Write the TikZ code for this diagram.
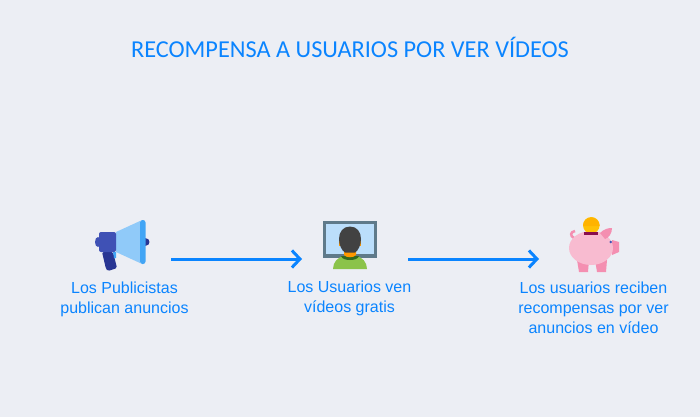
\documentclass[tikz,border=0pt]{standalone}
\usepackage{fontspec}
\setmainfont{Liberation Sans}
\newfontfamily\titlefont{Carlito}
\usetikzlibrary{positioning, arrows.meta}
\definecolor{bgcol}{HTML}{ECEEF4}
\definecolor{bluecol}{HTML}{0A84FF}
\definecolor{megdark}{HTML}{283593}
\definecolor{megbody}{HTML}{3F51B5}
\definecolor{megcone}{HTML}{90CAF9}
\definecolor{megbar}{HTML}{42A5F5}
\definecolor{monframe}{HTML}{5F7A8A}
\definecolor{monscreen}{HTML}{BBDEFB}
\definecolor{hair}{HTML}{424242}
\definecolor{neck}{HTML}{FF9800}
\definecolor{collar}{HTML}{33691E}
\definecolor{shirt}{HTML}{8BC34A}
\definecolor{pigbody}{HTML}{F8BBD0}
\definecolor{pigdark}{HTML}{F48FB1}
\definecolor{coinup}{HTML}{FFC107}
\definecolor{coinlow}{HTML}{FFB300}
\definecolor{slot}{HTML}{880E4F}
\begin{document}
\begin{tikzpicture}[
  x=1pt, y=-1pt,
  >={Straight Barb[length=8pt, width=17pt, line width=3pt]},
  title/.style ={inner sep=0pt, text=bluecol, font=\titlefont\fontsize{24.3}{28}\selectfont},
  label/.style ={inner sep=0pt, align=center, text=bluecol, font=\fontsize{16}{20}\selectfont},
  arr/.style   ={->, bluecol, line width=3pt},
]
\useasboundingbox[fill=bgcol] (0,0) rectangle (700,417);

% ---- title ----
\node[title] (head) at (350,47.5) {RECOMPENSA A USUARIOS POR VER VÍDEOS};

% ---- megaphone ----
\fill[megbody] (98,242) ellipse (3 and 5);
\fill[megdark] (145,238) .. controls (151,238) and (151,246) .. (145,246) -- cycle;
\fill[megdark, rounded corners=1.5pt] (102,252) -- (113,252) -- (117,268) -- (108,271) -- (106,269) -- cycle;
\fill[megbar] (113,252) -- (116,252) -- (116,258) -- (114,258) -- cycle;
\fill[megcone] (116,232) -- (140,221) -- (140,263) -- (116,252) -- cycle;
\fill[megbody, rounded corners=2pt] (99,232) -- (116,232) -- (116,252) -- (99,252) -- cycle;
\fill[megbar, rounded corners=2.5pt] (140,220) rectangle (145.5,264);

% ---- monitor and viewer ----
\fill[monframe] (323,221) rectangle (377,258);
\fill[monscreen] (326,224) rectangle (374,254);
\fill[shirt] (333,269) .. controls (333,262) and (338,257) .. (344,256) -- (356,256) .. controls (362,257) and (367,262) .. (367,269) -- cycle;
\fill[collar] (341,256) -- (359,256) .. controls (358,259) and (354,260) .. (350,260) .. controls (346,260) and (342,259) .. (341,256) -- cycle;
\fill[neck] (344,250) -- (356,250) -- (356,255) .. controls (354,258) and (346,258) .. (344,255) -- cycle;
\fill[neck] (339,241) rectangle (361,246);
\fill[hair] (350,226.5) .. controls (343,226.5) and (339,232) .. (339,239) .. controls (339,245) and (342,251) .. (345,252.5) -- (355,252.5) .. controls (358,251) and (361,245) .. (361,239) .. controls (361,232) and (357,226.5) .. (350,226.5) -- cycle;

% ---- piggy bank ----
\fill[pigdark] (577,260) -- (589,260) -- (588,272) -- (579,272) -- cycle;
\fill[pigdark] (595,260) -- (607,260) -- (606,272) -- (597,272) -- cycle;
\draw[line width=2.5pt, pigdark] (574,238) .. controls (570,236) and (570,232) .. (575,231);
\fill[pigdark] (612,240) -- (619,242) -- (619,252) -- (612,255) -- cycle;
\fill[pigbody] (591,248) ellipse (22 and 17);
\fill[pigdark] (600,233) .. controls (604,229) and (608,228) .. (612,228) .. controls (612,233) and (609,238) .. (605,239) -- cycle;
\fill[coinup] (591.3,225.3) circle (8.3);
\fill[coinlow] (583,226) arc (180:360:8.3) -- cycle;
\fill[slot] (584,232) rectangle (598,235);
\fill[megbody] (610.7,242) circle (1.3);

% ---- texts ----
\node[label] (pub)  at (124.5,299) {Los Publicistas\\publican anuncios};
\node[label] (user) at (349.5,298.5) {Los Usuarios ven\\vídeos gratis};
\node[label] (prize) at (593.5,307.5) {Los usuarios reciben\\recompensas por ver\\anuncios en vídeo};

% ---- connectors ----
\coordinate (pubout)  at (171,259);
\coordinate (userin)  at (302,259);
\coordinate (userout) at (408,259);
\coordinate (prizein) at (539,259);
\draw[arr] (pubout) -- (userin);
\draw[arr] (userout) -- (prizein);

\end{tikzpicture}
\end{document}
